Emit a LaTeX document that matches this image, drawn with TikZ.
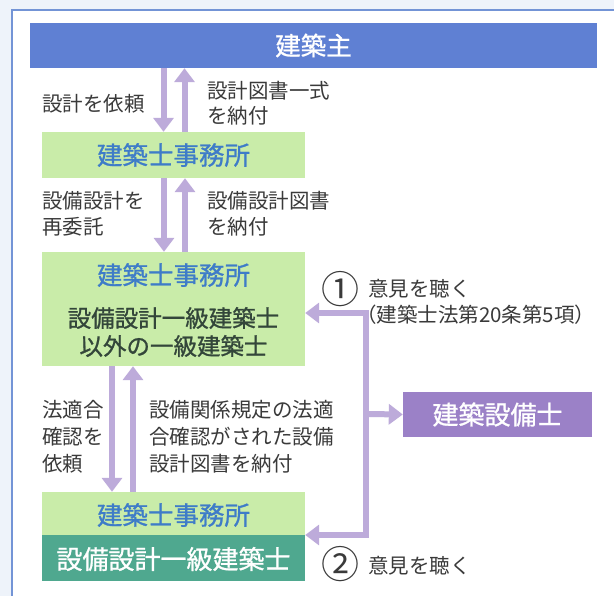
\documentclass[tikz,border=0pt]{standalone}
\usepackage{fontspec}
\usetikzlibrary{arrows.meta}
\newfontfamily\jp{Noto Sans CJK JP}
\newfontfamily\jpb[FakeBold=1]{Noto Sans CJK JP}
\definecolor{topblue}{HTML}{5F80D3}
\definecolor{lgreen}{HTML}{C9ECA9}
\definecolor{tealbox}{HTML}{4FA88F}
\definecolor{purpbox}{HTML}{9B81C7}
\definecolor{arr}{HTML}{BDABDA}
\definecolor{titleblue}{HTML}{3E7CC8}
\definecolor{darktext}{HTML}{33463A}
\definecolor{labeltext}{HTML}{3A3A3A}
\definecolor{frameblue}{HTML}{7394D6}
\definecolor{outbg}{HTML}{EEF3FA}
\tikzset{
  box/.style={draw=none, inner sep=0pt, anchor=center},
  boxtxt/.style={font=\jpb\fontsize{25.5}{30}\selectfont, inner sep=0pt, anchor=center},
  lbl/.style={font=\jp\fontsize{20.5}{26}\selectfont, text=labeltext, align=left, anchor=west, inner sep=0pt},
  num/.style={font=\jp\fontsize{38}{40}\selectfont, text=labeltext, inner sep=0pt, anchor=center},
  flow/.style={draw=arr, line width=6pt, -{Triangle[length=14pt,width=20pt]}},
  flowtwo/.style={draw=arr, line width=6pt, {Triangle[length=14pt,width=20pt]}-{Triangle[length=14pt,width=20pt]}},
}
\begin{document}
\begin{tikzpicture}[x=1pt,y=-1pt]
\useasboundingbox (0,0) rectangle (614,596);
\clip (0,0) rectangle (614,596);
\fill[outbg] (0,0) rectangle (614,596);
\draw[frameblue, line width=2pt, fill=white] (12,10) rectangle (640,620);

% boxes
\node[box, fill=topblue, minimum width=567pt, minimum height=45pt] (top) at (313.5,45.5) {};
\node[boxtxt, text=white] (toptxt) at (top.center) {建築主};

\node[box, fill=lgreen, minimum width=263pt, minimum height=46pt] (off1) at (173.5,155) {};
\node[boxtxt, text=titleblue] (off1txt) at (off1.center) {建築士事務所};

\node[box, fill=lgreen, minimum width=263pt, minimum height=114pt] (off2) at (173.5,309) {};
\node[boxtxt, text=titleblue] (off2txt) at (173.5,275) {建築士事務所};
\node[boxtxt, text=darktext, font=\jpb\fontsize{23.5}{28}\selectfont] (off2a) at (173.5,318) {設備設計一級建築士};
\node[boxtxt, text=darktext, font=\jpb\fontsize{23.5}{28}\selectfont] (off2b) at (173.5,346) {以外の一級建築士};

\node[box, fill=lgreen, minimum width=263pt, minimum height=43pt] (off3a) at (173.5,513.5) {};
\node[boxtxt, text=titleblue] (off3atxt) at (173.5,515) {建築士事務所};
\node[box, fill=tealbox, minimum width=263pt, minimum height=46pt] (off3b) at (173.5,558) {};
\node[boxtxt, text=white, font=\jpb\fontsize{26}{30}\selectfont] (off3btxt) at (173.5,559) {設備設計一級建築士};

\node[box, fill=purpbox, minimum width=189pt, minimum height=45pt] (purp) at (497.5,414.5) {};
\node[boxtxt, text=white, font=\jpb\fontsize{26}{30}\selectfont] (purptxt) at (purp.center) {建築設備士};

% vertical flows
\draw[flow] (top.south -| 163.5,0) -- (off1.north -| 163.5,0);
\draw[flow] (off1.north -| 184.5,0) -- (top.south -| 184.5,0);
\draw[flow] (off1.south -| 164,0) -- (off2.north -| 164,0);
\draw[flow] (off2.north -| 185,0) -- (off1.south -| 185,0);
\draw[flow] (off2.south -| 112,0) -- (off3a.north -| 112,0);
\draw[flow] (off3a.north -| 133,0) -- (off2.south -| 133,0);

% feedback
\coordinate (c1) at (366,313);
\coordinate (c2) at (366,535);
\coordinate (c3) at (366,414);
\draw[flowtwo] (c1 -| off2.east) -- (c1) -- (c2) -- (c2 -| off3a.east);
\draw[flow] (c3) -- (purp.west);

% labels
\node[lbl] (l1) at (42,104) {設計を依頼};
\node[lbl, font=\jp\fontsize{20.5}{25}\selectfont] (l2) at (207,103.5) {設計図書一式\\を納付};
\node[lbl, font=\jp\fontsize{20.5}{26}\selectfont] (l3) at (42,214) {設備設計を\\再委託};
\node[lbl, font=\jp\fontsize{20.5}{26}\selectfont] (l4) at (207,214) {設備設計図書\\を納付};
\node[lbl, font=\jp\fontsize{20.5}{27}\selectfont] (l5) at (42,437) {法適合\\確認を\\依頼};
\node[lbl, font=\jp\fontsize{20.5}{27}\selectfont] (l6) at (149,437) {設備関係規定の法適\\合確認がされた設備\\設計図書を納付};

\node[num] (n1) at (340,289) {①};
\node[lbl] (o1) at (368,289) {意見を聴く};
\node[lbl] (o1b) at (356,315) {（建築士法第20条第5項）};
\node[num] (n2) at (340,564) {②};
\node[lbl] (o2) at (368,566) {意見を聴く};
\end{tikzpicture}
\end{document}
